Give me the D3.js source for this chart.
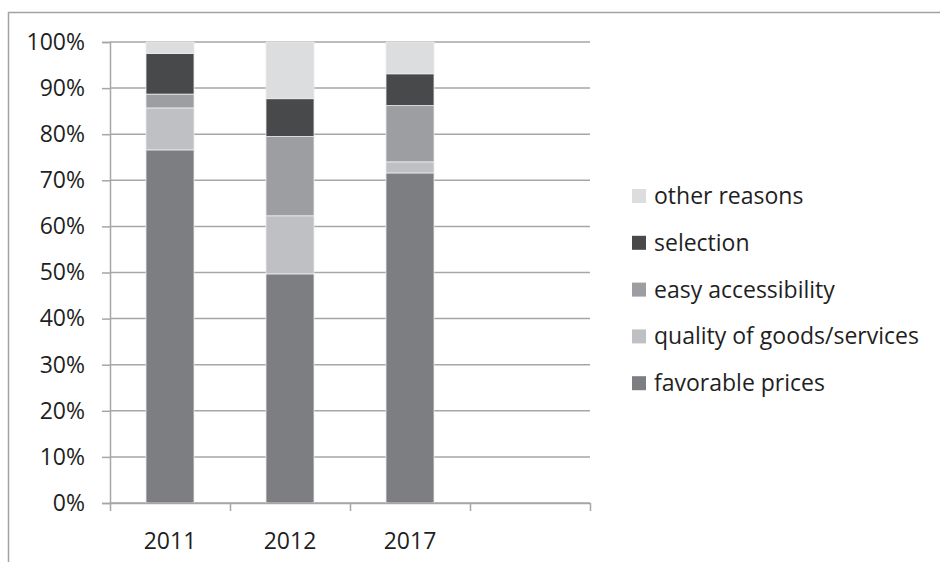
<!DOCTYPE html>
<html>
<head>
<meta charset="utf-8">
<script src="https://cdn.jsdelivr.net/npm/d3@7"></script>
<style>
  body { margin: 0; background: #fff; }
  text { font-family: "Open Sans", sans-serif; fill: #1f1f1f; }
</style>
</head>
<body>
<div id="chart"></div>
<script>
// categories (the last slot is empty in the original chart)
var years = ["2011", "2012", "2017", ""];

// series values in percent, per year
var favorable = [76.6, 49.7, 71.6];
var quality   = [9.1, 12.6, 2.4];
var easy      = [3.0, 17.2, 12.2];
var selection = [8.8, 8.2, 6.9];
var other     = [2.5, 12.3, 6.9];

var seriesNames = ["favorable prices", "quality of goods/services", "easy accessibility", "selection", "other reasons"];
var seriesColors = ["#7d7e82", "#bfc0c4", "#9d9ea2", "#48494b", "#dcdddf"];
var yTicks = [0, 10, 20, 30, 40, 50, 60, 70, 80, 90, 100];

var W = 940, H = 562;
var plot = {left: 110, right: 590, top: 42, bottom: 503};

var svg = d3.select("#chart")
  .append("svg")
    .attr("width", W)
    .attr("height", H);

// outer frame (only top and left edges are visible)
svg.append("path")
  .attr("d", "M8.5," + H + " V12.5 H" + W)
  .attr("fill", "none")
  .attr("stroke", "#a3a3a3")
  .attr("stroke-width", 1.5);

// build table rows for the stack
var table = years.slice(0, 3).map(function(y, i) {
  return {
    year: y,
    "favorable prices": favorable[i],
    "quality of goods/services": quality[i],
    "easy accessibility": easy[i],
    "selection": selection[i],
    "other reasons": other[i]
  };
});

var x = d3.scaleBand()
  .domain(years)
  .range([plot.left, plot.right])
  .paddingInner(0.6)
  .paddingOuter(0.3);

var xEdge = d3.scaleLinear()
  .domain([0, years.length])
  .range([plot.left, plot.right]);

var y = d3.scaleLinear()
  .domain([0, 100])
  .range([plot.bottom, plot.top]);

// gridlines
svg.append("g")
  .selectAll("line")
  .data(yTicks)
  .enter()
  .append("line")
    .attr("x1", plot.left)
    .attr("x2", plot.right)
    .attr("y1", function(d) { return y(d); })
    .attr("y2", function(d) { return y(d); })
    .attr("stroke", "#a6a6a6")
    .attr("stroke-width", 1.5);

// stacked bars
var stack = d3.stack().keys(seriesNames)(table);

svg.append("g")
  .selectAll("g")
  .data(stack)
  .enter()
  .append("g")
    .attr("fill", function(d, i) { return seriesColors[i]; })
  .selectAll("rect")
  .data(function(d) { return d; })
  .enter()
  .append("rect")
    .attr("x", function(d) { return x(d.data.year); })
    .attr("width", x.bandwidth())
    .attr("y", function(d) { return y(d[1]); })
    .attr("height", function(d) { return y(d[0]) - y(d[1]); })
    .attr("stroke", "#ececec")
    .attr("stroke-width", 0.8);

// Y axis
var yAxis = svg.append("g")
  .attr("transform", "translate(" + plot.left + ",0)")
  .call(d3.axisLeft(y)
    .tickValues(yTicks)
    .tickSize(8)
    .tickPadding(17)
    .tickFormat(function(d) { return d + "%"; }));
yAxis.select(".domain").attr("stroke", "#a6a6a6").attr("stroke-width", 1.5);
yAxis.selectAll(".tick line").attr("stroke", "#a6a6a6").attr("stroke-width", 1.5);
yAxis.selectAll("text")
  .style("font-size", "23px")
  .attr("fill", "#1f1f1f");

// X axis: tick marks at band edges
var xAxis = svg.append("g")
  .attr("transform", "translate(0," + plot.bottom + ")")
  .call(d3.axisBottom(xEdge)
    .ticks(years.length)
    .tickSize(8)
    .tickSizeOuter(0)
    .tickFormat(""));
xAxis.select(".domain").attr("stroke", "#a6a6a6").attr("stroke-width", 1.5);
xAxis.selectAll(".tick line").attr("stroke", "#a6a6a6").attr("stroke-width", 1.5);

// X labels at band centers
svg.append("g")
  .selectAll("text")
  .data(years)
  .enter()
  .append("text")
    .attr("x", function(d) { return x(d) + x.bandwidth() / 2; })
    .attr("y", plot.bottom + 46)
    .attr("text-anchor", "middle")
    .style("font-size", "23px")
    .text(function(d) { return d; });

// legend, top entry is the last series
var legendItems = seriesNames.slice().reverse();
var legendColors = seriesColors.slice().reverse();

var legend = svg.append("g")
  .selectAll("g")
  .data(legendItems)
  .enter()
  .append("g")
    .attr("transform", function(d, i) { return "translate(632," + (196 + i * 46.8) + ")"; });

legend.append("rect")
  .attr("x", 0)
  .attr("y", -7)
  .attr("width", 14)
  .attr("height", 14)
  .attr("fill", function(d, i) { return legendColors[i]; });

legend.append("text")
  .attr("x", 22)
  .attr("y", 8)
  .style("font-size", "23px")
  .text(function(d) { return d; });
</script>
</body>
</html>
